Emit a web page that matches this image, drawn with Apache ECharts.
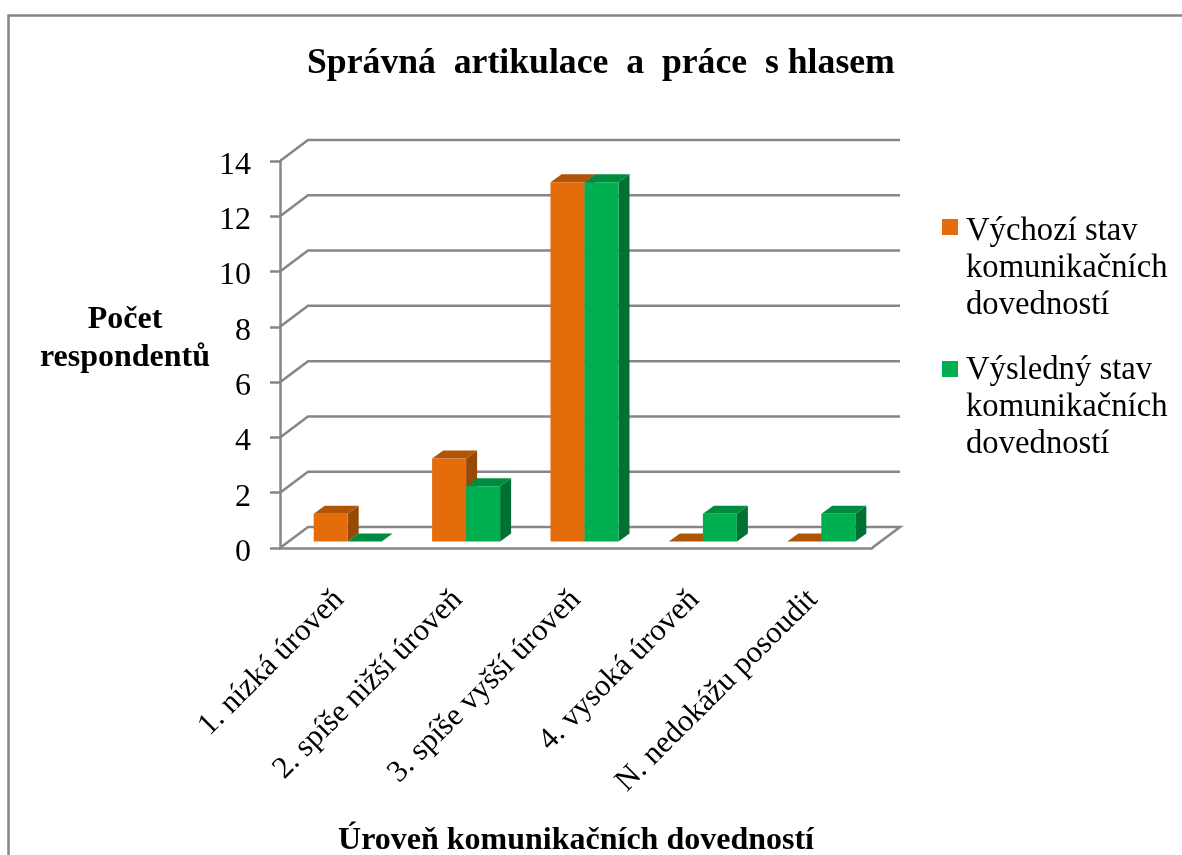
<!DOCTYPE html>
<html>
<head>
<meta charset="utf-8">
<style>
  html, body { margin: 0; padding: 0; background: #fff; }
  #chart { width: 1182px; height: 855px; }
</style>
<script src="https://cdn.jsdelivr.net/npm/echarts@6/dist/echarts.min.js"></script>
</head>
<body>
<div id="chart"></div>
<script>
// data
const categories = ['1. nízká úroveň', '2. spíše nižší úroveň', '3. spíše vyšší úroveň', '4. vysoká úroveň', 'N. nedokážu posoudit'];
const vychozi = [1, 3, 13, 0, 0];
const vysledny = [0, 2, 13, 1, 1];
const yTicks = [0, 2, 4, 6, 8, 10, 12, 14];
const seriesNames = ['Výchozí stav\nkomunikačních\ndovedností', 'Výsledný stav\nkomunikačních\ndovedností'];

const FONT = '"Liberation Serif", "Times New Roman", serif';
const GRID_COLOR = '#868686';
// front / top / side colours of the fake 3d bars
const ORANGE = ['#e46c0a', '#b05508', '#974a06'];
const GREEN = ['#00b050', '#008c40', '#007033'];

// depth of the floor and of the bars, in pixels
const WALL_DX = 28, WALL_DY = 21;
const BAR_DX = 11, BAR_DY = 8;
const BAR_W = 34;

function poly(points, fill) {
  return { type: 'polygon', shape: { points: points }, style: { fill: fill } };
}

function renderBar(colors, pos) {
  return function (params, api) {
    const top = api.coord([api.value(0), api.value(1)]);
    const base = api.coord([api.value(0), 0]);
    const inX = (WALL_DX - BAR_DX) / 2, inY = (WALL_DY - BAR_DY) / 2;
    const x0 = base[0] + pos * BAR_W + inX;
    const x1 = x0 + BAR_W;
    const yB = base[1] - inY;
    const yT = top[1] - inY;
    return {
      type: 'group',
      children: [
        poly([[x1, yT], [x1 + BAR_DX, yT - BAR_DY], [x1 + BAR_DX, yB - BAR_DY], [x1, yB]], colors[2]),
        poly([[x0, yT], [x0 + BAR_DX, yT - BAR_DY], [x1 + BAR_DX, yT - BAR_DY], [x1, yT]], colors[1]),
        { type: 'rect', shape: { x: x0, y: yT, width: BAR_W, height: yB - yT }, style: { fill: colors[0] } }
      ]
    };
  };
}

// back wall lines: slanted piece from the axis, then across. 0 closes the floor
function renderWall(params, api) {
  const g = params.coordSys;
  const y = api.coord([0, api.value(1)])[1];
  const left = g.x, right = g.x + g.width;
  let pts = [[left, y], [left + WALL_DX, y - WALL_DY], [right + WALL_DX, y - WALL_DY]];
  if (api.value(1) === 0) pts = pts.concat([[right, y]]);
  return {
    type: 'polyline',
    shape: { points: pts },
    style: { fill: null, stroke: GRID_COLOR, lineWidth: 2.5 }
  };
}

const chart = echarts.init(document.getElementById('chart'), null, { renderer: 'canvas' });

const option = {
  backgroundColor: '#fff',
  animation: false,
  textStyle: { fontFamily: FONT },
  title: {
    text: 'Správná  artikulace  a  práce  s hlasem',
    left: 302,
    top: 41,
    textStyle: { fontFamily: FONT, fontSize: 35.7, fontWeight: 'bold', color: '#000' }
  },
  grid: { left: 280, right: 310, top: 161, bottom: 307, outerBoundsMode: 'none' },
  xAxis: {
    type: 'category',
    data: categories,
    axisLine: { show: true, lineStyle: { color: GRID_COLOR, width: 2.5 } },
    axisTick: { show: false },
    splitLine: { show: false },
    axisLabel: {
      interval: 0,
      rotate: 45,
      margin: 47,
      fontFamily: FONT,
      fontSize: 31,
      color: '#000'
    },
    name: 'Úroveň komunikačních dovedností',
    nameLocation: 'middle',
    nameGap: 277,
    nameTextStyle: { fontFamily: FONT, fontSize: 32, fontWeight: 'bold', color: '#000' }
  },
  yAxis: {
    type: 'value',
    min: 0,
    max: 14,
    interval: 2,
    axisLine: { show: true, lineStyle: { color: GRID_COLOR, width: 2.5 } },
    axisTick: { show: true, length: 10, lineStyle: { color: GRID_COLOR, width: 2.5 } },
    splitLine: { show: false },
    axisLabel: {
      margin: 29,
      formatter: '{n|{value}}',
      // digits sit a little under the tick in the original
      rich: { n: { fontFamily: FONT, fontSize: 32, color: '#000', padding: [9, 0, 0, 0] } }
    }
  },
  series: [
    {
      type: 'custom',
      name: 'mřížka',
      z: 1,
      renderItem: renderWall,
      encode: { x: 0, y: 1 },
      data: yTicks.map(function (t) { return [0, t]; })
    },
    {
      type: 'custom',
      name: seriesNames[0],
      z: 2,
      renderItem: renderBar(ORANGE, -1),
      encode: { x: 0, y: 1 },
      data: vychozi.map(function (v, i) { return [i, v]; })
    },
    {
      type: 'custom',
      name: seriesNames[1],
      z: 3,
      renderItem: renderBar(GREEN, 0),
      encode: { x: 0, y: 1 },
      data: vysledny.map(function (v, i) { return [i, v]; })
    }
  ],
  graphic: [
    // outer frame of the pasted chart, only top and left fall inside the picture
    { type: 'polyline', shape: { points: [[8.5, 855], [8.5, 15.5], [1182, 15.5]] }, style: { fill: null, stroke: GRID_COLOR, lineWidth: 2.5 } },
    // y title sits higher than the axis middle, axis name padding does not move it
    { type: 'text', x: 125, y: 339, style: { text: 'Počet\nrespondentů', font: 'bold 32px ' + FONT, lineHeight: 38, align: 'center', verticalAlign: 'middle', fill: '#000' } },
    // legend is done by hand, the marker sits at the first line of the text
    { type: 'rect', shape: { x: 942, y: 219, width: 16, height: 16 }, style: { fill: ORANGE[0] } },
    { type: 'text', x: 966, y: 212.5, style: { text: seriesNames[0], font: '32.7px ' + FONT, lineHeight: 37, fill: '#000' } },
    { type: 'rect', shape: { x: 942, y: 361, width: 16, height: 16 }, style: { fill: GREEN[0] } },
    { type: 'text', x: 966, y: 351.5, style: { text: seriesNames[1], font: '32.7px ' + FONT, lineHeight: 37, fill: '#000' } }
  ]
};

chart.setOption(option);
</script>
</body>
</html>
